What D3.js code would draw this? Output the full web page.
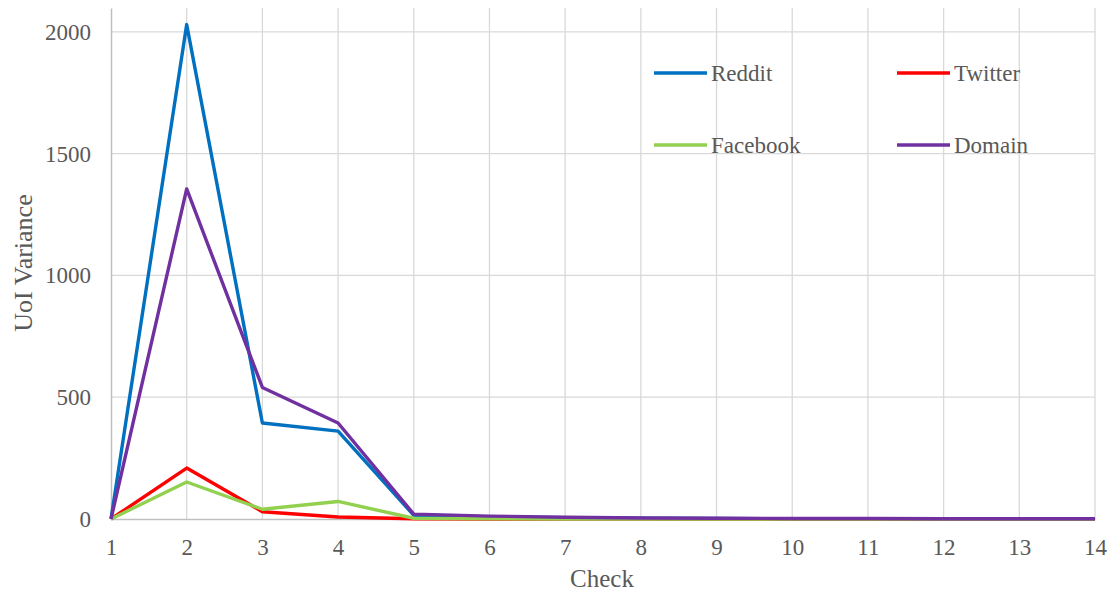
<!DOCTYPE html>
<html>
<head>
<meta charset="utf-8">
<script src="https://cdn.jsdelivr.net/npm/d3@7"></script>
<style>
  body { margin: 0; background: #fff; overflow: hidden; }
  svg, svg text { font-family: 'Liberation Serif', 'Times New Roman', Times, serif !important; }
</style>
</head>
<body>
<div id="chart"></div>
<script>
const checks = [1, 2, 3, 4, 5, 6, 7, 8, 9, 10, 11, 12, 13, 14];
const reddit = [0, 2030, 394, 361, 15, 8, 5, 3, 2, 1, 1, 1, 0, 0];
const twitter = [0, 209, 30, 8, 1, 0, 0, 0, 0, 0, 0, 0, 0, 0];
const facebook = [0, 152, 40, 72, 3, 1, 0, 0, 0, 0, 0, 0, 0, 0];
const domain = [0, 1355, 540, 394, 20, 12, 7, 4, 3, 2, 2, 1, 1, 1];
const yTicks = [0, 500, 1000, 1500, 2000];

const seriesNames = ['Reddit', 'Twitter', 'Facebook', 'Domain'];
const seriesValues = [reddit, twitter, facebook, domain];
const colors = ['#0070C0', '#FF0000', '#92D050', '#7030A0'];

const width = 1112;
const height = 593;
const margin = { top: 8, right: 17, bottom: 74, left: 111 };
const innerW = width - margin.left - margin.right;
const innerH = height - margin.top - margin.bottom;

const svg = d3.select('#chart').append('svg').attr('width', width).attr('height', height);
const g = svg.append('g').attr('transform', `translate(${margin.left},${margin.top})`);

const x = d3.scaleLinear().domain([1, 14]).range([0, innerW]);
const y = d3.scaleLinear().domain([0, 2098]).range([innerH, 0]);

// grid
g.append('g')
  .selectAll('line')
  .data(checks.slice(1))
  .join('line')
  .attr('x1', d => x(d)).attr('x2', d => x(d))
  .attr('y1', 0).attr('y2', innerH)
  .attr('stroke', '#d9d9d9').attr('stroke-width', 1.3);

g.append('g')
  .selectAll('line')
  .data(yTicks.slice(1))
  .join('line')
  .attr('x1', 0).attr('x2', innerW)
  .attr('y1', d => y(d)).attr('y2', d => y(d))
  .attr('stroke', '#d9d9d9').attr('stroke-width', 1.3);

// axes
const xAxis = g.append('g')
  .attr('transform', `translate(0,${innerH})`)
  .call(d3.axisBottom(x).tickValues(checks).tickFormat(d3.format('d')).tickSize(0).tickPadding(20));
const yAxis = g.append('g')
  .call(d3.axisLeft(y).tickValues(yTicks).tickFormat(d3.format('d')).tickSize(0).tickPadding(20));

[xAxis, yAxis].forEach(a => {
  a.attr('font-family', null);
  a.select('.domain').attr('stroke', '#bfbfbf').attr('stroke-width', 1.5);
  a.selectAll('text')
    .attr('fill', '#595959')
    .attr('font-size', 23);
});

// lines
const line = d3.line()
  .x((d, i) => x(checks[i]))
  .y(d => y(d));

g.append('g')
  .selectAll('path')
  .data(seriesValues)
  .join('path')
  .attr('fill', 'none')
  .attr('stroke', (d, i) => colors[i])
  .attr('stroke-width', 3.4)
  .attr('stroke-linejoin', 'round')
  .attr('d', d => line(d));

// legend
const legendPos = [[654, 73], [897, 73], [654, 145], [897, 145]];
const legend = svg.append('g');
seriesNames.forEach((name, i) => {
  const [lx, ly] = legendPos[i];
  legend.append('line')
    .attr('x1', lx).attr('x2', lx + 53)
    .attr('y1', ly).attr('y2', ly)
    .attr('stroke', colors[i]).attr('stroke-width', 3.4);
  legend.append('text')
    .attr('x', lx + 57).attr('y', ly)
    .attr('dy', '0.33em')
    .attr('fill', '#595959')
    .attr('font-size', 23)
    .text(name);
});

// titles
svg.append('text')
  .attr('x', 602)
  .attr('y', 587)
  .attr('text-anchor', 'middle')
  .attr('fill', '#595959')
  .attr('font-size', 25)
  .text('Check');

svg.append('text')
  .attr('transform', 'translate(32,263) rotate(-90)')
  .attr('text-anchor', 'middle')
  .attr('fill', '#595959')
  .attr('font-size', 26)
  .text('UoI Variance');
</script>
</body>
</html>
